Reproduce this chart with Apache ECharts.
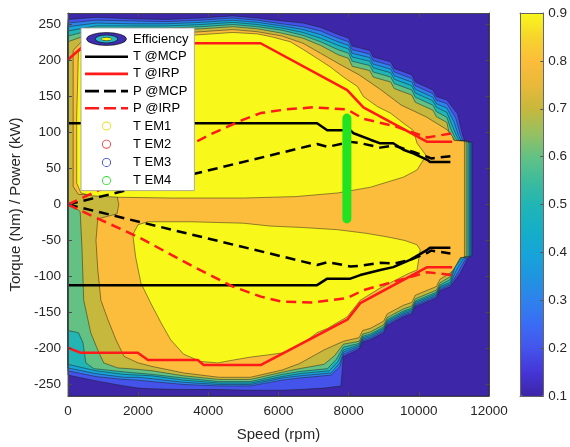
<!DOCTYPE html>
<html>
<head>
<meta charset="utf-8">
<script src="https://cdn.jsdelivr.net/npm/echarts@6/dist/echarts.min.js"></script>
<style>
html,body{margin:0;padding:0;background:#fff}
#chart{width:570px;height:447px}
</style>
</head>
<body>
<div id="chart"></div>
<script>
// ---- axes ----
const speedRange = [0, 12000];
const speedStep = 2000;
const torqueRange = [-266, 266];
const effRange = [0.1, 0.9];
const effStep = 0.1;

// ---- efficiency map: outline of each filled contour region [speed rpm, torque Nm] ----
const effRegion010 = [[0,-266],[12000,-266],[12000,266],[0,266]];
const effRegion020 = [[0,257],[800,260],[1800,258],[2800,257],[3800,259],[4700,262],[5400,259],[6100,255],[6700,252],[7200,246],
  [7700,236],[8000,231],[8100,220],[8600,214],[8700,205],[9200,198],[9300,189],[9800,180],[9900,170],[10400,159],[10500,150],[10800,145],[11100,126],[11230,100],[11300,89],[11530,86],
  [11530,-70],[11380,-76],[11180,-95],[10900,-114],[10600,-120],[10500,-130],[10300,-134],[9900,-142],[9800,-152],[9560,-156],[9100,-168],[9000,-178],[8620,-188],[8400,-191],[8300,-201],[7850,-211],
  [7780,-252],[7300,-255],[6600,-257],[6100,-258],[5200,-258],[4300,-257],[3300,-257],[2400,-256],[2000,-255],[1600,-252],[800,-245],[0,-237]];
const effRegion030 = [[0,252],[800,256],[1800,255],[2800,254],[3800,256],[4700,259],[5400,256],[6100,251],[6700,247],[7200,241],
  [7700,231],[8000,226],[8100,215],[8600,209],[8700,200],[9200,193],[9300,184],[9800,175],[9900,165],[10400,154],[10500,145],[10800,140],[11050,120],[11180,98],[11250,89],[11500,86],
  [11500,-71],[11330,-76],[11130,-93],[10900,-112],[10600,-118],[10500,-128],[10300,-132],[9900,-140],[9800,-150],[9560,-154],[9100,-166],[9000,-176],[8620,-186],[8400,-189],[8300,-199],[7850,-208],
  [7750,-225],[7500,-237],[6600,-241],[6100,-244],[5200,-252],[4300,-252],[3300,-250],[2400,-246],[2000,-244],[1600,-243],[800,-239],[0,-231]];
const effRegion040 = [[0,247],[800,252],[1800,251],[2800,251],[3800,253],[4700,256],[5400,253],[6100,248],[6700,243],[7200,236],
  [7700,226],[8000,221],[8100,210],[8600,204],[8700,195],[9200,188],[9300,179],[9800,170],[9900,160],[10400,149],[10500,140],[10800,134],[11000,115],[11130,96],[11200,89],[11470,86],
  [11470,-71],[11280,-75],[11080,-90],[10900,-110],[10600,-116],[10500,-126],[10300,-130],[9900,-138],[9800,-148],[9560,-152],[9100,-164],[9000,-174],[8620,-184],[8400,-187],[8300,-197],[7850,-205],
  [7750,-220],[7500,-234],[6600,-238],[6100,-241],[5200,-250],[4300,-250],[3300,-247],[2400,-242],[2000,-240],[1600,-240],[800,-235],[0,-227]];
const effRegion050 = [[0,241],[800,248],[1800,248],[2800,248],[3800,250],[4700,253],[5400,250],[6100,245],[6700,239],[7200,231],
  [7700,221],[8000,216],[8100,205],[8600,199],[8700,190],[9200,183],[9300,174],[9800,165],[9900,155],[10400,144],[10500,135],[10800,128],[10950,110],[11080,95],[11150,89],[11440,86],
  [11440,-72],[11230,-74],[11030,-87],[10900,-108],[10600,-114],[10500,-124],[10300,-128],[9900,-136],[9800,-146],[9560,-150],[9100,-162],[9000,-172],[8620,-182],[8400,-185],[8300,-195],[7850,-202],
  [7700,-218],[7450,-231],[6600,-235],[6100,-239],[5200,-248],[4300,-248],[3300,-244],[2400,-238],[2000,-237],[1600,-236],[800,-231],[0,-222]];
const effRegion060 = [[0,234],[800,244],[1800,245],[2800,245],[3800,247],[4700,250],[5400,247],[6100,242],[6700,235],[7200,226],
  [7700,215],[8000,210],[8100,199],[8600,193],[8700,184],[9200,177],[9300,168],[9800,159],[9900,149],[10400,138],[10500,129],[10800,121],[10900,106],[11030,93],[11100,89],[11400,87],
  [11400,-72],[11180,-74],[11000,-88],[10900,-104],[10600,-112],[10500,-122],[10300,-126],[9900,-134],[9800,-144],[9560,-148],[9100,-160],[9000,-170],[8620,-180],[8400,-183],[8300,-193],[7850,-198],
  [7650,-215],[7400,-228],[6600,-232],[6100,-236],[5200,-246],[4300,-246],[3300,-241],[2400,-236],[1700,-233],[740,-228],[510,-220],[430,-192],[300,-178],[0,-175]];
const effRegion070 = [[0,226],[800,240],[1800,242],[2800,242],[3800,244],[4700,247],[5400,244],[6100,238],[6700,231],[7200,221],
  [7700,208],[8000,203],[8100,192],[8600,186],[8700,177],[9200,170],[9300,161],[9800,152],[9900,142],[10400,131],[10500,122],[10800,114],[10850,102],[10980,92],[11050,89],[11350,87],
  [11350,-72],[11130,-74],[10960,-88],[10900,-100],[10600,-109],[10500,-119],[10300,-123],[9900,-131],[9800,-141],[9560,-145],[9100,-157],[9000,-167],[8620,-177],[8400,-180],[8300,-190],[7850,-194],
  [7600,-210],[7300,-222],[6600,-228],[6100,-233],[5200,-243],[4300,-243],[3300,-238],[2400,-231],[2000,-229],[1420,-227],[1020,-220],[850,-202],[650,-178],[450,-133],[400,-60],[350,-10],[0,4]];
const effRegion080 = [[150,214],[400,227],[800,234],[1800,237],[2800,237],[3800,240],[4700,243],[5400,240],[6100,234],[6700,224],[7200,210],
  [7700,196],[8300,180],[8900,160],[9500,138],[10200,122],[10800,104],[10950,95],[11000,89],[11300,88],
  [11300,-73],[11180,-74],[11090,-82],[10980,-91],[10900,-95],[10600,-104],[10500,-114],[10300,-118],[9900,-126],[9800,-136],[9560,-140],[9100,-152],[9000,-162],[8620,-172],[8400,-175],[8300,-185],[7850,-190],
  [7300,-202],[6600,-221],[6100,-230],[5200,-240],[4300,-240],[3300,-234],[2400,-225],[2000,-220],[1600,-211],[1370,-188],[1140,-160],[940,-133],[850,-90],[800,-50],[850,-20],[1400,-13],[1450,0],[1400,12],[300,14],[150,25]];
const effRegion090Motor = [[300,212],[800,228],[1800,232],[2800,233],[3800,236],[4700,239],[5400,237],[5800,233],[6340,226],[6715,215],[7100,203],[7480,191],[7850,177],[8250,164],[8420,150],[8820,136],[9190,127],[9560,113],[9840,103],[9950,85],[10240,66],
  [10130,62],[9950,48],[9560,38],[8620,24],[7680,16],[6500,11],[5000,9],[3000,9],[1500,10],[700,12],[370,16],[250,30],[250,120]];
const effRegion090Gen = [[1850,-42],[2000,-28],[2280,-24],[3500,-24],[5000,-26],[5773,-30],[6700,-32],[7680,-35],[8500,-40],[9100,-45],[9600,-50],[9950,-56],[10040,-63],[10000,-75],[9950,-91],[9700,-96],[9300,-106],[8900,-116],[8330,-133],[7960,-156],[7400,-172],[7100,-178],[6830,-188],[6430,-199],[6140,-206],[5690,-209],[5200,-212],[4720,-216],[4270,-220],[3780,-218],[3300,-208],[2930,-188],[2650,-164],[2360,-137],[2080,-109],[1930,-73]];

const effLevels = [0.1, 0.2, 0.3, 0.4, 0.5, 0.6, 0.7, 0.8, 0.9, 0.9];
const effRegions = [effRegion010, effRegion020, effRegion030, effRegion040, effRegion050,
  effRegion060, effRegion070, effRegion080, effRegion090Motor, effRegion090Gen];

// parula-like colour ramp from 0.1 to 0.9 in steps of 0.05
const effColors = ['#3e26a8','#4535d8','#4454ea','#3b6cf5','#2e82ec','#1f95e0','#16a5d8','#15afc6',
  '#22b5b5','#3dbb9c','#63c184','#98c060','#c6b83c','#e9b93a','#fbbd3b','#f7d52c','#f8f81a'];

// ---- operating curves ----
const tMcpMotor = [[0,113],[7100,113],[7390,103],[8050,103],[8140,99],[8620,90],[8900,85],[9270,85],[9560,76],[9840,71],[10240,62],[10320,59],[10900,59]];
const tMcpGen = [[0,-112],[7100,-112],[7390,-103],[8050,-103],[8330,-98],[8900,-91],[9270,-87],[9750,-77],[10240,-63],[10320,-60],[10900,-60]];
const tIrpMotor = [[0,201],[530,224],[5490,224],[7960,159],[8420,135],[10240,87],[10950,87]];
const tIrpGen = [[0,-199],[370,-206],[1990,-206],[2280,-216],[3700,-216],[3870,-223],[5490,-223],[7960,-160],[8330,-137],[10240,-87],[10950,-87]];
const pMcpMotor = [[0,0],[7100,84],[7400,80],[8050,87],[8350,85],[8900,79],[9300,82],[9600,77],[9850,73],[10250,66],[10350,64],[10900,67]];
const pMcpGen = [[0,0],[7100,-84],[7400,-80],[8050,-86],[8350,-85],[8900,-81],[9300,-82],[9750,-77],[10250,-67],[10350,-64],[10900,-68]];
const pIrpMotor = [[0,0],[530,12],[1500,34],[3000,70],[4000,96],[5000,118],[5490,127],[6200,132],[7000,135],[7960,132],[8420,119],[9300,109],[10240,93],[10950,99]];
const pIrpGen = [[0,0],[740,-17],[2000,-45],[3600,-87],[4700,-114],[5500,-128],[6100,-135],[7000,-136],[7960,-130],[8420,-119],[9300,-107],[10240,-94],[10950,-98]];
const tEm1 = [];
const tEm2 = [];
const tEm3 = [];
const tEm4 = [[7950,-20],[7950,120]];

// ---- legend icons ----
const solidIcon = 'path://M0,0H43V2.6H0Z';
const dashIcon = 'path://M0,0H14V2.6H0Z M19,0H31V2.6H19Z M36,0H43V2.6H36Z';
const ringIcon = 'path://M17,7a4.5,4.5 0 1,0 9,0a4.5,4.5 0 1,0 -9,0Z M17.9,7a3.6,3.6 0 1,1 7.2,0a3.6,3.6 0 1,1 -7.2,0Z M0,0h0.01v0.01h-0.01Z M43,14h-0.01v-0.01h0.01Z';
const effSvg = '<svg xmlns="http://www.w3.org/2000/svg" width="44" height="15" viewBox="0 0 44 15">' +
  '<ellipse cx="22" cy="7.5" rx="21.4" ry="6.9" fill="#3e2fae" stroke="#000" stroke-width="0.7"/>' +
  '<ellipse cx="22" cy="7.5" rx="12" ry="4.2" fill="#27b8c8" stroke="#000" stroke-width="0.6"/>' +
  '<ellipse cx="22" cy="7.5" rx="5.5" ry="1.8" fill="#f8f81a" stroke="#000" stroke-width="0.5"/></svg>';
const effIcon = 'image://data:image/svg+xml;charset=utf-8,' + encodeURIComponent(effSvg);

const FONT = "'Liberation Sans', Arial, Helvetica, sans-serif";
const chart = echarts.init(document.getElementById('chart'), null, {renderer: 'canvas'});

function curve(name, data, color, dashed) {
  return {
    type: 'line', name, data, symbol: 'none', showSymbol: false,
    xAxisIndex: 0, yAxisIndex: 0, silent: true, z: 3,
    lineStyle: {color, width: 2.5, type: dashed ? [10, 6] : 'solid'},
    itemStyle: {color}
  };
}

const frameLine = {show: true, onZero: false, lineStyle: {color: '#4a4a4a', width: 1}};
const barLine = {show: true, onZero: false, lineStyle: {color: '#666', width: 1}};
const labelStyle = {color: '#262626', fontSize: 13.5, fontFamily: FONT};
const plain = v => String(Math.round(v * 1000) / 1000);

chart.setOption({
  animation: false,
  textStyle: {fontFamily: FONT},
  grid: [
    {left: 67, top: 13, width: 422, height: 383},
    {left: 520, top: 13, width: 24, height: 383}
  ],
  xAxis: [
    {gridIndex: 0, type: 'value', position: 'bottom', min: speedRange[0], max: speedRange[1], interval: speedStep,
      axisLine: frameLine, axisTick: {inside: true, length: 4, lineStyle: {color: '#4a4a4a'}},
      axisLabel: Object.assign({margin: 8, formatter: plain}, labelStyle), splitLine: {show: false},
      name: 'Speed (rpm)', nameLocation: 'middle', nameGap: 31,
      nameTextStyle: {color: '#262626', fontSize: 15, fontFamily: FONT}, z: 5},
    {gridIndex: 0, type: 'value', position: 'top', min: speedRange[0], max: speedRange[1], interval: speedStep,
      axisLine: frameLine, axisTick: {inside: true, length: 4, lineStyle: {color: '#4a4a4a'}},
      axisLabel: {show: false}, splitLine: {show: false}, z: 5},
    {gridIndex: 1, type: 'value', position: 'bottom', min: 0, max: 1,
      axisLine: barLine, axisTick: {show: false},
      axisLabel: {show: false}, splitLine: {show: false}, z: 10},
    {gridIndex: 1, type: 'value', position: 'top', min: 0, max: 1,
      axisLine: barLine, axisTick: {show: false},
      axisLabel: {show: false}, splitLine: {show: false}, z: 10}
  ],
  yAxis: [
    {gridIndex: 0, type: 'value', position: 'left', min: torqueRange[0], max: torqueRange[1], splitNumber: 10,
      axisLine: frameLine, axisTick: {inside: true, length: 4, lineStyle: {color: '#4a4a4a'}},
      axisLabel: Object.assign({margin: 7, showMinLabel: false, showMaxLabel: false, formatter: plain}, labelStyle),
      splitLine: {show: false},
      name: 'Torque (Nm) / Power (kW)', nameLocation: 'middle', nameGap: 38,
      nameTextStyle: {color: '#262626', fontSize: 15, fontFamily: FONT}, z: 5},
    {gridIndex: 0, type: 'value', position: 'right', min: torqueRange[0], max: torqueRange[1], splitNumber: 10,
      axisLine: frameLine, axisTick: {inside: true, length: 4, lineStyle: {color: '#4a4a4a'}},
      axisLabel: {show: false}, splitLine: {show: false}, z: 5},
    {gridIndex: 1, type: 'value', position: 'right', min: effRange[0], max: effRange[1], interval: effStep,
      axisLine: barLine,
      axisTick: {inside: true, length: 3, lineStyle: {color: '#555'}},
      axisLabel: Object.assign({margin: 5, formatter: v => v.toFixed(1)}, labelStyle),
      splitLine: {show: false}, z: 10},
    {gridIndex: 1, type: 'value', position: 'left', min: effRange[0], max: effRange[1], interval: effStep,
      axisLine: barLine, axisTick: {show: false},
      axisLabel: {show: false}, splitLine: {show: false}, z: 10}
  ],
  visualMap: {
    type: 'continuous', seriesIndex: 0, dimension: 0,
    min: effRange[0], max: effRange[1], inRange: {color: effColors},
    calculable: false, hoverLink: false, orient: 'vertical',
    left: 520, top: 13, itemWidth: 24, itemHeight: 383, padding: 0, text: null
  },
  legend: {
    orient: 'vertical', left: 81, top: 28,
    padding: [4, 6, 3, 4], itemGap: 4.2, itemWidth: 43, itemHeight: 14,
    backgroundColor: '#ffffff', borderColor: '#9a9a9a', borderWidth: 0.8, borderRadius: 0,
    itemStyle: {borderWidth: 0},
    textStyle: {color: '#000', fontSize: 13, fontFamily: FONT},
    selectedMode: false,
    data: [
      {name: 'Efficiency', icon: effIcon},
      {name: 'T @MCP', icon: solidIcon},
      {name: 'T @IRP', icon: solidIcon},
      {name: 'P @MCP', icon: dashIcon},
      {name: 'P @IRP', icon: dashIcon},
      {name: 'T EM1', icon: ringIcon},
      {name: 'T EM2', icon: ringIcon},
      {name: 'T EM3', icon: ringIcon},
      {name: 'T EM4', icon: ringIcon}
    ]
  },
  series: [
    {
      type: 'custom', name: 'Efficiency', coordinateSystem: 'cartesian2d',
      xAxisIndex: 0, yAxisIndex: 0, clip: true, silent: true, z: 1,
      data: effLevels.map((lvl, i) => [lvl, i]),
      renderItem: function (params, api) {
        const outline = effRegions[api.value(1)];
        const pts = outline.map(p => api.coord(p));
        return {
          type: 'polygon',
          shape: {points: pts},
          style: {fill: api.visual('color'), stroke: 'rgba(25,25,25,0.8)', lineWidth: 0.6}
        };
      }
    },
    curve('T @MCP', tMcpMotor, '#000000', false),
    curve('T @MCP', tMcpGen, '#000000', false),
    curve('T @IRP', tIrpMotor, '#ff1a1a', false),
    curve('T @IRP', tIrpGen, '#ff1a1a', false),
    curve('P @MCP', pMcpMotor, '#000000', true),
    curve('P @MCP', pMcpGen, '#000000', true),
    curve('P @IRP', pIrpMotor, '#ff1a1a', true),
    curve('P @IRP', pIrpGen, '#ff1a1a', true),
    Object.assign(curve('T EM1', tEm1, '#e8e020', false), {z: 4}),
    Object.assign(curve('T EM2', tEm2, '#f03a3a', false), {z: 4}),
    Object.assign(curve('T EM3', tEm3, '#3340d8', false), {z: 4}),
    {
      type: 'line', name: 'T EM4', data: tEm4, symbol: 'none', showSymbol: false,
      xAxisIndex: 0, yAxisIndex: 0, silent: true, z: 4,
      lineStyle: {color: '#22e322', width: 9, cap: 'round'},
      itemStyle: {color: '#22e322'}
    }
  ]
});
</script>
</body>
</html>
